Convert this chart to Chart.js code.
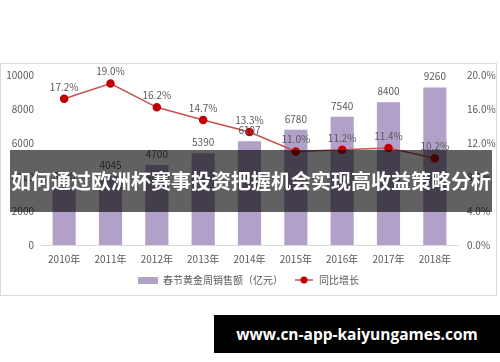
<!DOCTYPE html>
<html>
<head>
<meta charset="utf-8">
<script src="https://cdn.jsdelivr.net/npm/chart.js@4/dist/chart.umd.min.js"></script>
<style>
    html, body { margin: 0; padding: 0; background: #fff; }
    body { width: 500px; height: 362px; position: relative; overflow: hidden; }
    #box {
        position: absolute; left: 0; top: 63px; width: 497px; height: 233px;
        border: 1px solid #d9d9d9; box-sizing: border-box;
    }
    #banner {
        position: absolute; left: 10px; top: 150px; width: 482px; height: 62px;
        background: rgba(0, 0, 0, 0.62); color: #fff;
        font: bold 20px "Noto Sans CJK SC", sans-serif;
        line-height: 62px; text-align: center; white-space: nowrap;
    }
    #mark {
        position: absolute; left: 214px; top: 315px; width: 286px; height: 38px;
        background: #000; color: #fff;
        font: bold 15.5px "Open Sans", sans-serif;
        line-height: 38px; text-align: center; white-space: nowrap;
    }
</style>
</head>
<body>
<div id="box"><canvas id="chart" width="495" height="231"></canvas></div>
<div id="banner">如何通过欧洲杯赛事投资把握机会实现高收益策略分析</div>
<div id="mark">www.cn-app-kaiyungames.com</div>
<script>
const years = ["2010年", "2011年", "2012年", "2013年", "2014年", "2015年", "2016年", "2017年", "2018年"];
const sales = [3400, 4045, 4700, 5390, 6107, 6780, 7540, 8400, 9260];
const growth = [17.2, 19.0, 16.2, 14.7, 13.3, 11.0, 11.2, 11.4, 10.2];
const salesTicks = [0, 2000, 4000, 6000, 8000, 10000];
const growthTicks = [0, 4, 8, 12, 16, 20];

const fontFamily = '"Noto Sans CJK SC", sans-serif';
const textGray = "#595959";
const barColor = "#b1a0c7";
const lineColor = "#c9504f";
const dotColor = "#c00000";

// legend symbols
function legendBar() {
    const c = document.createElement("canvas");
    c.width = 20; c.height = 7;
    const g = c.getContext("2d");
    g.fillStyle = barColor;
    g.fillRect(0, 0, 20, 7);
    return c;
}

function legendLine() {
    const c = document.createElement("canvas");
    c.width = 18; c.height = 8;
    const g = c.getContext("2d");
    g.strokeStyle = lineColor;
    g.lineWidth = 1.5;
    g.beginPath();
    g.moveTo(0, 4); g.lineTo(18, 4);
    g.stroke();
    g.fillStyle = dotColor;
    g.beginPath();
    g.arc(9, 4, 3.5, 0, Math.PI * 2);
    g.fill();
    return c;
}

// value labels above bars and points
const valueLabels = {
    id: "valueLabels",
    afterDatasetsDraw(chart) {
        const ctx = chart.ctx;
        ctx.save();
        ctx.font = "10px " + fontFamily;
        ctx.fillStyle = textGray;
        ctx.textAlign = "center";
        ctx.textBaseline = "middle";
        chart.data.datasets.forEach((ds, di) => {
            const meta = chart.getDatasetMeta(di);
            meta.data.forEach((el, i) => {
                const v = ds.data[i];
                const txt = ds.type === "line" ? v.toFixed(1) + "%" : String(v);
                ctx.fillText(txt, el.x, el.y - (ds.type === "line" ? 12 : 11));
            });
        });
        ctx.restore();
    }
};

// keep the plot top where the reference has it
function fitY(width) {
    return s => {
        s.width = width;
        s.paddingTop = 11;
    };
}

const ctx = document.getElementById("chart").getContext("2d");
new Chart(ctx, {
    data: {
        labels: years,
        datasets: [
            {
                type: "bar",
                label: "春节黄金周销售额（亿元）",
                data: sales,
                backgroundColor: barColor,
                yAxisID: "y",
                order: 1,
                barPercentage: 0.5,
                categoryPercentage: 1
            },
            {
                type: "line",
                label: "同比增长",
                data: growth,
                borderColor: lineColor,
                borderWidth: 1.5,
                pointBackgroundColor: dotColor,
                pointBorderColor: dotColor,
                pointRadius: 3.5,
                yAxisID: "y1",
                order: 0
            }
        ]
    },
    options: {
        responsive: false,
        animation: false,
        layout: { padding: { top: 0, bottom: 0 } },
        plugins: {
            tooltip: { enabled: false },
            legend: {
                position: "bottom",
                labels: {
                    usePointStyle: true,
                    pointStyleWidth: 20,
                    padding: 11,
                    color: textGray,
                    font: { size: 10, family: fontFamily },
                    sort: (a, b) => a.datasetIndex - b.datasetIndex,
                    generateLabels(chart) {
                        const items = Chart.defaults.plugins.legend.labels.generateLabels(chart);
                        items.forEach(it => {
                            it.pointStyle = it.datasetIndex === 0 ? legendBar() : legendLine();
                        });
                        return items;
                    }
                }
            }
        },
        scales: {
            x: {
                afterFit: s => { s.height = 19; },
                grid: { display: false, drawTicks: false },
                border: { color: "#d9d9d9" },
                ticks: { color: textGray, font: { size: 10, family: fontFamily }, padding: 8 }
            },
            y: {
                position: "left",
                min: 0,
                max: 10000,
                afterBuildTicks: s => { s.ticks = salesTicks.map(v => ({ value: v })); },
                afterFit: fitY(40),
                grid: { display: false, drawTicks: false },
                border: { display: false },
                ticks: {
                    color: textGray,
                    font: { size: 10, family: fontFamily },
                    padding: 7,
                    callback: v => String(v)
                }
            },
            y1: {
                position: "right",
                min: 0,
                max: 20,
                afterBuildTicks: s => { s.ticks = growthTicks.map(v => ({ value: v })); },
                afterFit: fitY(38),
                grid: { display: false, drawTicks: false },
                border: { display: false },
                ticks: {
                    color: textGray,
                    font: { size: 10, family: fontFamily },
                    padding: 9,
                    callback: v => v.toFixed(1) + "%"
                }
            }
        }
    },
    plugins: [valueLabels]
});
</script>
</body>
</html>
